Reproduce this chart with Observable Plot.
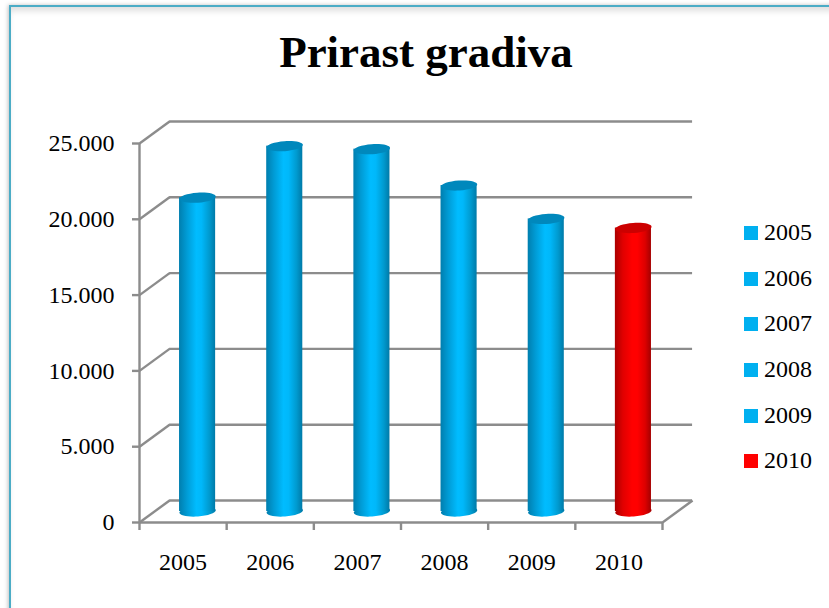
<!DOCTYPE html>
<html>
<head>
<meta charset="utf-8">
<script src="https://cdn.jsdelivr.net/npm/d3@7"></script>
<script src="https://cdn.jsdelivr.net/npm/@observablehq/plot@0.6"></script>
<style>
html,body{margin:0;padding:0;background:#fff;width:829px;height:608px;overflow:hidden}
#frame{position:absolute;left:9px;top:5px;width:900px;height:700px;border:2px solid #4BACC6;box-shadow:-1px 0 4px rgba(0,0,0,.25),inset 0 6px 6px -2px rgba(0,0,0,.13)}
#page{position:absolute;left:0;top:0;width:829px;height:608px;font-family:"Liberation Serif",serif;color:#000}
#title{position:absolute;left:0;top:22px;width:852px;text-align:center;font-size:45px;font-weight:bold;line-height:60px;height:60px}
#chart{position:absolute;left:0;top:100px}
#legend{position:absolute;left:744px;top:210px;font-size:24px}
.li{display:flex;align-items:center;height:45.7px;line-height:45.7px}
.sw{width:14px;height:14px;margin-right:6px;display:inline-block}
svg{display:block}
</style>
</head>
<body>
<div id="frame"></div>
<div id="page">
  <div id="title">Prirast gradiva</div>
  <div id="chart"></div>
  <div id="legend"></div>
</div>
<script>
const categories = ["2005","2006","2007","2008","2009","2010"];
const values = [20700, 24100, 23900, 21500, 19300, 18700];
const yTicks = [0, 5000, 10000, 15000, 20000, 25000];
const yTickLabels = ["0","5.000","10.000","15.000","20.000","25.000"];
const xTicks = [0, 1, 2, 3, 4, 5, 6];
const legendColors = ["#00B0F0","#00B0F0","#00B0F0","#00B0F0","#00B0F0","#FF0000"];
const gradientIds = ["gb","gb","gb","gb","gb","gr"];
const capColors = ["#0088BC","#0088BC","#0088BC","#0088BC","#0088BC","#CC0000"];

const rows = categories.map((c,i)=>({c,i,v:values[i],grad:`url(#${gradientIds[i]})`,cap:capColors[i]}));
const gridColor = "#8C8C8C";
const gridWidth = 2.4;
const depthX = 0.345, depthY = 1451;       // depth of the 3-D box in data units
const barHalf = 0.207;                     // half cylinder width in category units

// A tilted flat ellipse for the cylinder's ends
const tilted = (rx, ry, deg) => ({
  draw(ctx){
    const t = deg*Math.PI/180, c=Math.cos(t), s=Math.sin(t), k=0.5523;
    const P=(x,y)=>[x*c-y*s, x*s+y*c];
    const pts=[[rx,0],[rx,k*ry],[k*rx,ry],[0,ry],[-k*rx,ry],[-rx,k*ry],[-rx,0],[-rx,-k*ry],[-k*rx,-ry],[0,-ry],[k*rx,-ry],[rx,-k*ry],[rx,0]].map(p=>P(...p));
    ctx.moveTo(...pts[0]);
    for(let j=1;j<pts.length;j+=3) ctx.bezierCurveTo(...pts[j],...pts[j+1],...pts[j+2]);
    ctx.closePath();
  }
});
const capSym = tilted(18.2, 5, -4);
const barOff = {dx:14.5, dy:-11};

const plot = Plot.plot({
  width:720, height:508,
  marginLeft:139, marginRight:58, marginTop:43, marginBottom:86,
  style:{background:"transparent", fontFamily:"'Liberation Serif',serif"},
  x:{type:"linear", domain:[0,6], axis:null},
  y:{type:"linear", domain:[0,25000], axis:null},
  marks:[
    // back wall and floor
    Plot.ruleY(yTicks,{x1:depthX,x2:6+depthX,y:d=>d+depthY,stroke:gridColor,strokeWidth:gridWidth}),
    Plot.link(yTicks,{x1:0,y1:d=>d,x2:depthX,y2:d=>d+depthY,stroke:gridColor,strokeWidth:gridWidth}),
    Plot.link([0],{x1:6,y1:0,x2:6+depthX,y2:depthY,stroke:gridColor,strokeWidth:gridWidth}),
    // axes
    Plot.ruleX([0],{y1:0,y2:25000,stroke:gridColor,strokeWidth:gridWidth}),
    Plot.ruleY([0],{x1:0,x2:6,stroke:gridColor,strokeWidth:gridWidth}),
    Plot.axisY(yTicks,{anchor:"left",tickSize:7,tickPadding:18,stroke:gridColor,strokeWidth:gridWidth,tickFormat:d=>yTickLabels[yTicks.indexOf(d)],fontSize:24,fill:"#000",label:null}),
    Plot.axisX(xTicks,{anchor:"bottom",tickSize:8,tickFormat:()=>"",stroke:gridColor,strokeWidth:gridWidth,label:null}),
    Plot.text(rows,{x:d=>d.i+0.5,y:0,text:"c",dy:40,fontSize:24,fill:"#000"}),
    // cylinders
    Plot.dot(rows,{x:d=>d.i+0.5,y:0,r:10,symbol:capSym,fill:"grad",...barOff}),
    Plot.rect(rows,{x1:d=>d.i+0.5-barHalf,x2:d=>d.i+0.5+barHalf,y1:0,y2:"v",fill:"grad",...barOff}),
    Plot.dot(rows,{x:d=>d.i+0.5,y:"v",r:10,symbol:capSym,fill:"cap",...barOff})
  ]
});

// Horizontal shading that makes the bars read as cylinders
const defs = d3.select(plot).insert("defs",":first-child");
const stops = {gb:["#007EAE","#009CD6","#00BCFF","#00B8FA","#009ACF","#007AA8"],
               gr:["#AA0000","#E00000","#FF0000","#FF0000","#DC0000","#A40000"]};
const offs = ["0%","22%","48%","62%","84%","100%"];
for (const id of Object.keys(stops)) {
  const g = defs.append("linearGradient").attr("id",id).attr("x1","0").attr("x2","1").attr("y1","0").attr("y2","0");
  stops[id].forEach((c,i)=>g.append("stop").attr("offset",offs[i]).attr("stop-color",c));
}
document.getElementById("chart").appendChild(plot);

const legend = d3.select("#legend");
categories.forEach((c,i)=>{
  const li = legend.append("div").attr("class","li");
  li.append("span").attr("class","sw").style("background",legendColors[i]);
  li.append("span").text(c);
});
</script>
</body>
</html>
